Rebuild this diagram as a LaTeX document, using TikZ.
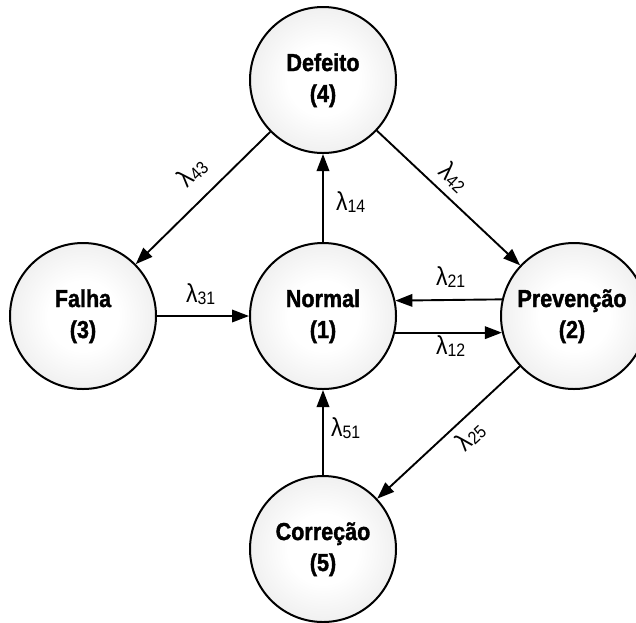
\documentclass[tikz,border=0pt]{standalone}
\usepackage{graphicx}
\usepackage{fontspec}
\setmainfont{Liberation Sans}
\newfontfamily\statefont[FakeBold=1.6]{Liberation Sans Bold}
\usetikzlibrary{arrows.meta}

% soft radial fill for the state circles
\pgfdeclareradialshading{statefill}{\pgfpoint{0bp}{0bp}}{%
  color(0bp)=(white); color(12bp)=(white); color(50bp)=(black!17)}

% state title and transition-rate text
\newcommand{\sttext}[1]{\scalebox{0.88}[1]{\fontsize{24.5}{24.5}\statefont #1}}
\newcommand{\ratetext}[1]{\scalebox{0.88}[1]{\fontsize{26}{26}\selectfont λ\raisebox{-2pt}{\fontsize{18}{18}\selectfont #1}}}

\begin{document}
\begin{tikzpicture}[x=1pt,y=-1pt,
  state/.style={circle, draw=black, line width=2pt, minimum size=146pt,
                inner sep=0pt, shading=statefill},
  title/.style={anchor=base, inner sep=0pt},
  flow/.style={line width=1.9pt, -{Triangle[length=17pt,width=12.5pt]}},
  rate/.style={anchor=base west, inner sep=0pt},
  ratec/.style={anchor=center, inner sep=0pt}]

\useasboundingbox (0,0) rectangle (636,622);
\clip (0,0) rectangle (636,622);

% states
\node[state] (n4) at (323,80)  {};
\node[state] (n1) at (323,316) {};
\node[state] (n3) at (83,316)  {};
\node[state] (n2) at (574,316) {};
\node[state] (n5) at (323,549) {};

\node[title] (t4a) at (323,71)  {\sttext{Defeito}};
\node[title] (t4b) at (323,102) {\sttext{(4)}};
\node[title] (t1a) at (323,307) {\sttext{Normal}};
\node[title] (t1b) at (323,338) {\sttext{(1)}};
\node[title] (t3a) at (83,307)  {\sttext{Falha}};
\node[title] (t3b) at (83,338)  {\sttext{(3)}};
\node[title] (t2a) at (572,307) {\sttext{Prevenção}};
\node[title] (t2b) at (572,338) {\sttext{(2)}};
\node[title] (t5a) at (323,540) {\sttext{Correção}};
\node[title] (t5b) at (323,571) {\sttext{(5)}};

% transitions
\draw[flow] (n1) -- (n4);
\draw[flow] (n4) -- (n3);
\draw[flow] (n4) -- (n2);
\draw[flow] (n3) -- (n1);
\draw[flow] (n2.167.3) -- (n1.12.7);
\draw[flow] (n1.-13.5) -- (n2.193.5);
\draw[flow] (n5) -- (n1);
\draw[flow] (n2) -- (n5);

% rates
\node[rate] (r14) at (336,210) {\ratetext{14}};
\node[rate] (r21) at (436,285) {\ratetext{21}};
\node[rate] (r12) at (436,354) {\ratetext{12}};
\node[rate] (r51) at (331,436) {\ratetext{51}};
\node[rate] (r31) at (186,302) {\ratetext{31}};
\node[ratec, rotate=44.5]  (r43) at (192,172) {\ratetext{43}};
\node[ratec, rotate=-43.2] (r42) at (454,177) {\ratetext{42}};
\node[ratec, rotate=42.9]  (r25) at (470,436) {\ratetext{25}};
\end{tikzpicture}
\end{document}
